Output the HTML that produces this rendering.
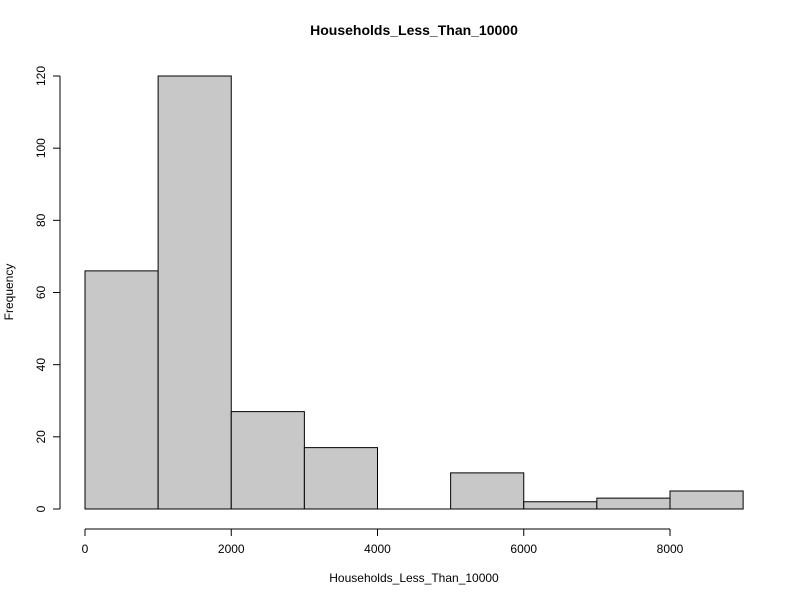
<!DOCTYPE html>
<html><head><meta charset="utf-8"><style>body{margin:0;background:#fff}svg{display:block}text{font-family:"Liberation Sans",sans-serif;fill:#000}</style></head>
<body>
<svg id="chart" width="800" height="600" xmlns="http://www.w3.org/2000/svg">
<text x="414" y="35" text-anchor="middle" font-size="14" font-weight="bold">Households_Less_Than_10000</text>
<text x="414" y="582" text-anchor="middle" font-size="12">Households_Less_Than_10000</text>
<text transform="translate(13,292) rotate(-90)" text-anchor="middle" font-size="12">Frequency</text>
<g id="bars"></g><g id="xaxis"></g><g id="yaxis"></g>
</svg>
<script>
const binStarts = [0,1000,2000,3000,4000,5000,6000,7000,8000];
const binWidth = 1000;
const counts = [66,120,27,17,0,10,2,3,5];
const xTicks = [0,2000,4000,6000,8000];
const yTicks = [0,20,40,60,80,100,120];
const NS="http://www.w3.org/2000/svg";
const xs = v => 85 + v*(585/8000);
const ys = v => 509 - v*(433/120);
function mk(t,a,p){const e=document.createElementNS(NS,t);for(const k in a)e.setAttribute(k,a[k]);p.appendChild(e);return e;}
const bars=document.getElementById('bars');
binStarts.forEach((s,i)=>{
 const x0=xs(s),x1=xs(s+binWidth),y0=ys(0),y1=ys(counts[i]);
 const r=mk('path',{d:`M${x0},${y0}L${x0},${y1}L${x1},${y1}L${x1},${y0}Z`,fill:'#c8c8c8',stroke:'#000','stroke-width':1},bars);
 
 
});
const xa=document.getElementById('xaxis');
mk('line',{x1:xs(xTicks[0]),x2:xs(xTicks[xTicks.length-1]),y1:529,y2:529,stroke:'#000'},xa);
xTicks.forEach(t=>{
 mk('line',{x1:xs(t),x2:xs(t),y1:529,y2:536,stroke:'#000'},xa);
 const tx=mk('text',{x:xs(t),y:553,'text-anchor':'middle','font-size':12},xa);tx.textContent=t;
 
 
});
const ya=document.getElementById('yaxis');
mk('line',{x1:60,x2:60,y1:ys(yTicks[0]),y2:ys(yTicks[yTicks.length-1]),stroke:'#000'},ya);
yTicks.forEach(t=>{
 mk('line',{x1:53,x2:60,y1:ys(t),y2:ys(t),stroke:'#000'},ya);
 const tx=mk('text',{transform:`translate(45,${ys(t)}) rotate(-90)`,'text-anchor':'middle','font-size':12},ya);tx.textContent=t;
 
 
});
</script>
</body></html>
